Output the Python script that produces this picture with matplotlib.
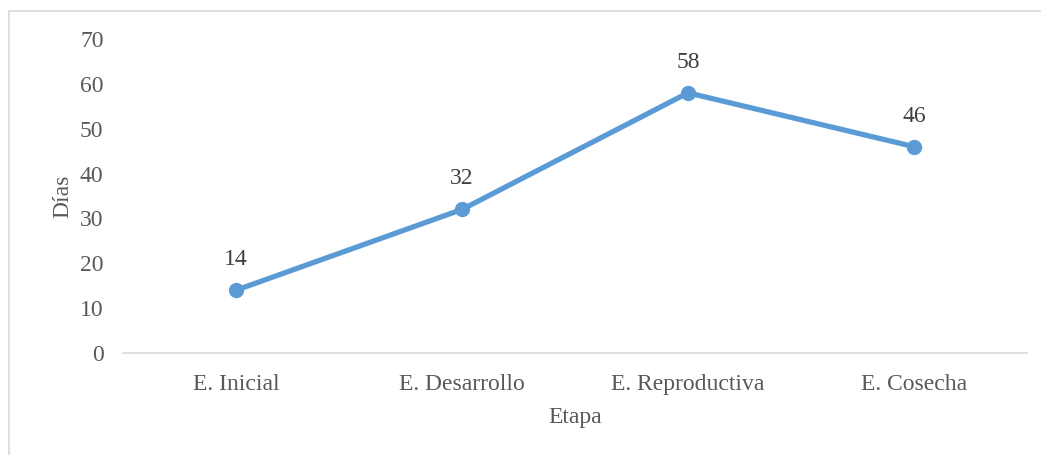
import matplotlib.pyplot as plt
from matplotlib.patches import Rectangle

etapas = ['E. Inicial', 'E. Desarrollo', 'E. Reproductiva', 'E. Cosecha']
dias = [14, 32, 58, 46]

plt.rcParams['font.family'] = ['Liberation Serif', 'DejaVu Serif']

fig = plt.figure(figsize=(10.41, 4.55), dpi=100)
ax = fig.add_axes([123 / 1041, 1 - 353 / 455, (1027 - 123) / 1041, (353 - 39) / 455])

# light frame around the chart area (cut off at right / bottom like the source)
fig.patches.append(Rectangle((9 / 1041, -0.1), 1.2, 1 - 11 / 455 + 0.1,
                             transform=fig.transFigure, fill=False,
                             edgecolor='#D9D9D9', linewidth=1.2))

x = list(range(len(etapas)))
ax.plot(x, dias, color='#5B9BD5', linewidth=3.8, marker='o', markersize=10,
        solid_capstyle='round')
for xi, v in zip(x, dias):
    ax.annotate(str(v), (xi, v), xytext=(0, 22), textcoords='offset points',
                ha='center', va='center', fontsize=17, color='#404040')

ax.set_xlim(-0.5, len(etapas) - 0.5)
ax.set_ylim(0, 70)
ax.set_yticks(range(0, 71, 10))
ax.set_xticks(x)
ax.set_xticklabels(etapas)
ax.tick_params(axis='both', length=0, labelsize=17, labelcolor='#595959')
ax.tick_params(axis='y', pad=14)
ax.tick_params(axis='x', pad=15)

for s in ['top', 'right', 'left']:
    ax.spines[s].set_visible(False)
ax.spines['bottom'].set_color('#D9D9D9')
ax.spines['bottom'].set_linewidth(1.2)

ax.set_xlabel('Etapa', fontsize=17, color='#595959', labelpad=9)
ax.set_ylabel('Días', fontsize=17, color='#595959', labelpad=5)

fig.savefig('out.png', dpi=100)
